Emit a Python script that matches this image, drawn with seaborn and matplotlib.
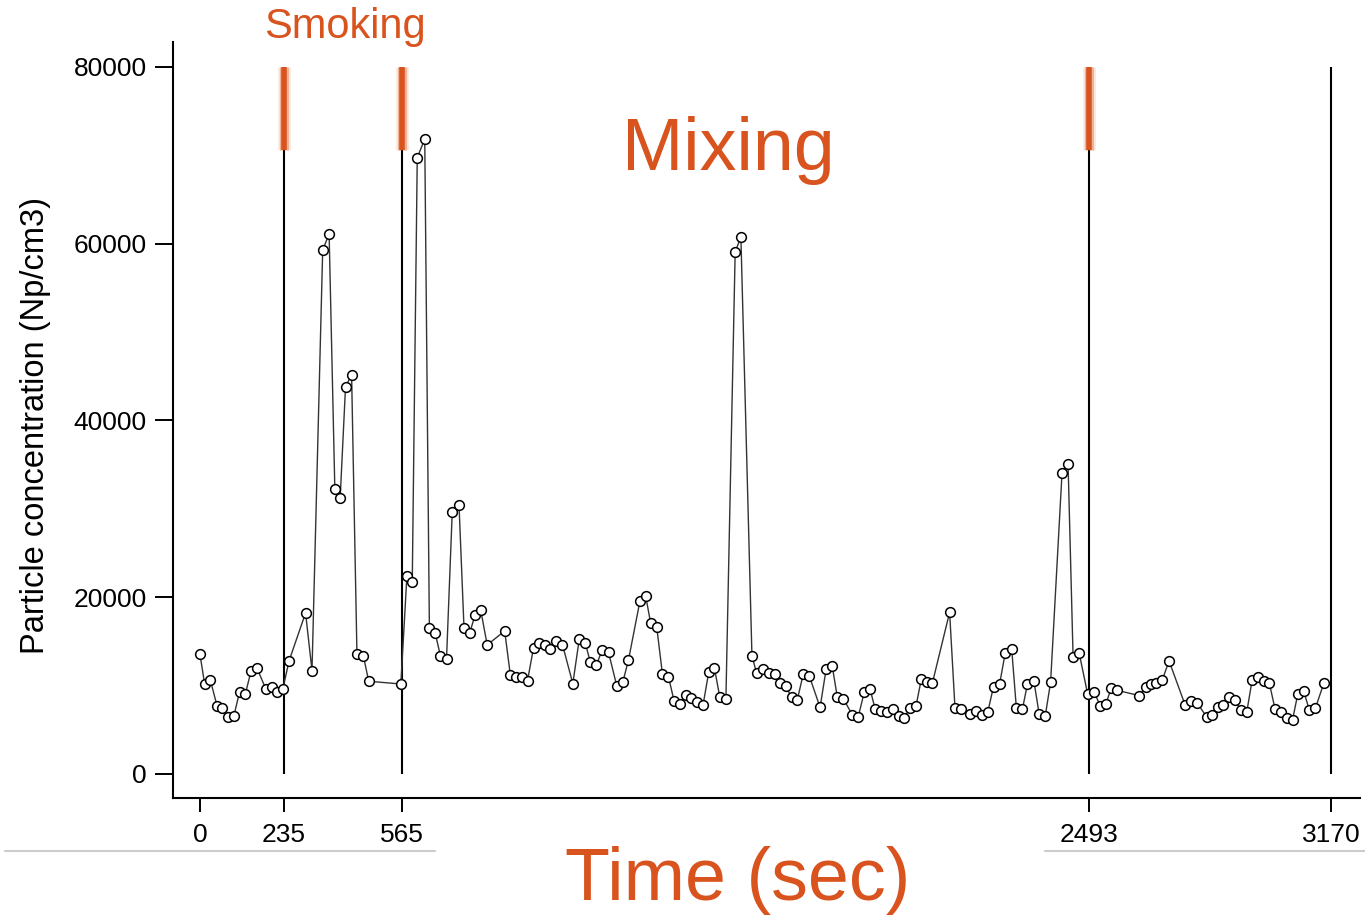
import numpy as np
import pandas as pd
import matplotlib
matplotlib.use("Agg")
import matplotlib.pyplot as plt
from matplotlib.lines import Line2D
import seaborn as sns

# time (sec) and particle concentration (Np/cm3)
time_s = [0, 13, 29, 48, 62, 78, 95, 111, 127, 143, 160, 185, 202, 216, 232, 250, 296, 314,
          344, 362, 378, 393, 408, 425, 440, 458, 473, 563, 580, 595, 609, 630, 643, 659,
          674, 691, 707, 726, 740, 756, 771, 787, 805, 854, 870, 886, 902, 918, 935, 951,
          967, 982, 999, 1016, 1045, 1063, 1080, 1094, 1111, 1127, 1145, 1168, 1185, 1201,
          1233, 1249, 1263, 1280, 1296, 1313, 1329, 1345, 1361, 1377, 1393, 1410, 1426,
          1442, 1457, 1474, 1500, 1516, 1547, 1560, 1577, 1595, 1611, 1626, 1642, 1658,
          1674, 1691, 1708, 1738, 1755, 1772, 1786, 1803, 1828, 1845, 1862, 1878, 1892,
          1909, 1925, 1942, 1958, 1974, 1991, 2007, 2022, 2039, 2053, 2101, 2116, 2133,
          2157, 2175, 2192, 2208, 2224, 2241, 2257, 2275, 2288, 2305, 2319, 2337, 2352,
          2369, 2384, 2416, 2433, 2447, 2464, 2488, 2506, 2523, 2539, 2554, 2570, 2633,
          2650, 2665, 2680, 2697, 2716, 2761, 2778, 2795, 2822, 2837, 2852, 2867, 2885,
          2901, 2917, 2934, 2949, 2966, 2981, 2997, 3013, 3030, 3046, 3062, 3077, 3093,
          3109, 3126, 3150]
conc = [13540, 10220, 10640, 7690, 7500, 6410, 6560, 9280, 9010, 11620, 11960, 9580, 9880,
        9280, 9580, 12830, 18220, 11690, 59290, 61100, 32280, 31270, 43830, 45150, 13540,
        13350, 10490, 10180, 22400, 21690, 69740, 71850, 16490, 15990, 13350, 13010, 29600,
        30480, 16560, 15950, 17990, 18520, 14600, 16180, 11170, 10940, 10940, 10560, 14300,
        14790, 14630, 14100, 15090, 14630, 10220, 15240, 14790, 12670, 12300, 14030, 13770,
        9990, 10370, 12900, 19540, 20180, 17090, 16670, 11350, 11010, 8220, 7920, 8970,
        8630, 8110, 7810, 11540, 11960, 8670, 8450, 59070, 60760, 13390, 11390, 11840,
        11460, 11330, 10330, 9920, 8670, 8370, 11330, 11050, 7540, 11880, 12220, 8750,
        8520, 6710, 6490, 9280, 9620, 7390, 7170, 7050, 7390, 6600, 6370, 7500, 7730,
        10780, 10410, 10330, 18290, 7500, 7320, 6790, 7090, 6710, 7020, 9880, 10150,
        13730, 14140, 7500, 7320, 10150, 10560, 6790, 6560, 10370, 34020, 35080, 13280,
        13690, 9020, 9310, 7690, 7950, 9700, 9470, 8860, 9840, 10180, 10260, 10640, 12790,
        7810, 8260, 8030, 6410, 6680, 7620, 7810, 8670, 8330, 7240, 7050, 10670, 11010,
        10560, 10300, 7350, 7050, 6370, 6110, 9090, 9430, 7240, 7430, 10300]

marker_times = [235, 565, 2493, 3170]
smoking_times = [235, 565, 2493]
x_ticks = [0, 235, 565, 2493, 3170]
y_ticks = [0, 20000, 40000, 60000, 80000]

orange = "#D9531E"

df = pd.DataFrame({"time": time_s, "conc": conc})

sns.set_style("ticks")
plt.rcParams["font.family"] = ["Liberation Sans", "DejaVu Sans"]

fig = plt.figure(figsize=(13.65, 9.21), dpi=100)
ax = fig.add_axes([0.1267, 0.1336, 0.8696, 0.8208])

# event lines
ax.vlines(marker_times, 0, 80000, color="black", lw=1.5, zorder=1)
# blurred orange smoking bars
for w, a in [(9, 0.15), (6.5, 0.35), (4, 1.0)]:
    ax.vlines(smoking_times, 70600, 80000, color=orange, lw=w, alpha=a, zorder=2)

sns.lineplot(data=df, x="time", y="conc", ax=ax, color="#333333", lw=1.0,
             marker="o", markersize=7, markerfacecolor="white",
             markeredgecolor="black", markeredgewidth=1.1, zorder=3)

ax.set_xlim(-75.7, 3251)
ax.set_ylim(-2716, 82825)
ax.set_xticks(x_ticks)
ax.set_xticklabels([str(t) for t in x_ticks])
ax.set_yticks(y_ticks)
ax.set_yticklabels([str(v) for v in y_ticks])
ax.tick_params(axis="y", length=13, width=1.4, labelsize=19, pad=6, colors="black")
ax.tick_params(axis="x", length=10, width=1.4, labelsize=19, pad=8, colors="black")
ax.set_xlabel("")
ax.set_ylabel("")
for s in ["top", "right"]:
    ax.spines[s].set_visible(False)
for s in ["left", "bottom"]:
    ax.spines[s].set_linewidth(1.5)
    ax.spines[s].set_color("black")

fig.text(0.026, 0.538, "Particle concentration (Np/cm3)", rotation=90,
         ha="center", va="center", fontsize=23.5, color="black")
fig.text(0.5407, 0.0445, "Time (sec)", ha="center", va="center", fontsize=53, color=orange)
fig.text(0.5333, 0.837, "Mixing", ha="center", va="center", fontsize=53, color=orange)
fig.text(0.2527, 0.9707, "Smoking", ha="center", va="center", fontsize=30, color=orange)

# faint rule lines under the tick labels
y_rule = 1 - 851 / 921
fig.add_artist(Line2D([5 / 1365, 435 / 1365], [y_rule, y_rule], color="#cccccc", lw=1.5))
fig.add_artist(Line2D([1045 / 1365, 1365 / 1365], [y_rule, y_rule], color="#cccccc", lw=1.5))

fig.savefig("out.png", dpi=100)
